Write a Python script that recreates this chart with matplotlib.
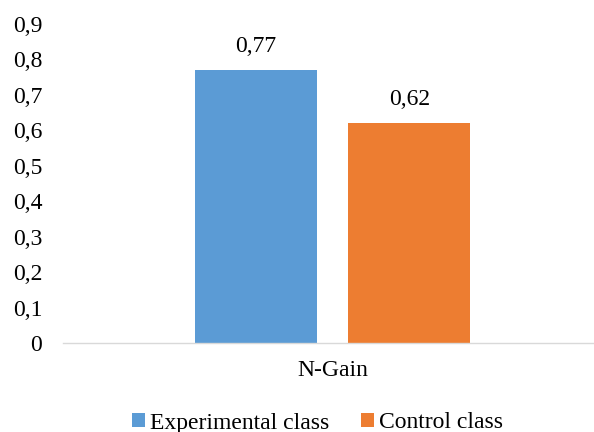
import numpy as np
import matplotlib.pyplot as plt

plt.rcParams['font.family'] = ['Liberation Serif', 'DejaVu Serif']

categoria = 'N-Gain'
series = ['Experimental class', 'Control class']
valores = [0.77, 0.62]
colores = ['#5B9BD5', '#ED7D31']
yticks = [0, 0.1, 0.2, 0.3, 0.4, 0.5, 0.6, 0.7, 0.8, 0.9]

fs = 17

fig = plt.figure(figsize=(5.94, 4.32), dpi=100)
ax = fig.add_axes([63/594, 1 - 343/432, 1 - 63/594, (343 - 24)/432])

ancho = 1.0
offsets = [-0.629, 0.629]
for v, c, s, off in zip(valores, colores, series, offsets):
    ax.bar(off, v, width=ancho, color=c, label=s)
    ax.text(off, v + 0.067, ('%.2f' % v).replace('.', ','), ha='center', va='center', fontsize=fs)

ax.set_xlim(-2.209, 2.143)
ax.set_ylim(0, 0.9)
ax.set_yticks(yticks)
ax.set_yticklabels([('%g' % t).replace('.', ',') for t in yticks], fontsize=fs)
ax.set_xticks([0])
ax.set_xticklabels([categoria], fontsize=fs)
ax.tick_params(axis='y', length=0, pad=15)
ax.tick_params(axis='x', length=0, pad=12)
for sp in ['left', 'right', 'top']:
    ax.spines[sp].set_visible(False)
ax.spines['bottom'].set_color('#d9d9d9')
ax.spines['bottom'].set_linewidth(1.0)

fig.legend(loc='center', bbox_to_anchor=(317.5/594, 1 - 423/432), ncol=2, frameon=False,
           fontsize=fs, handlelength=0.55, handleheight=0.55, handletextpad=0.2, columnspacing=1.35)

fig.savefig('out.png', dpi=100)
